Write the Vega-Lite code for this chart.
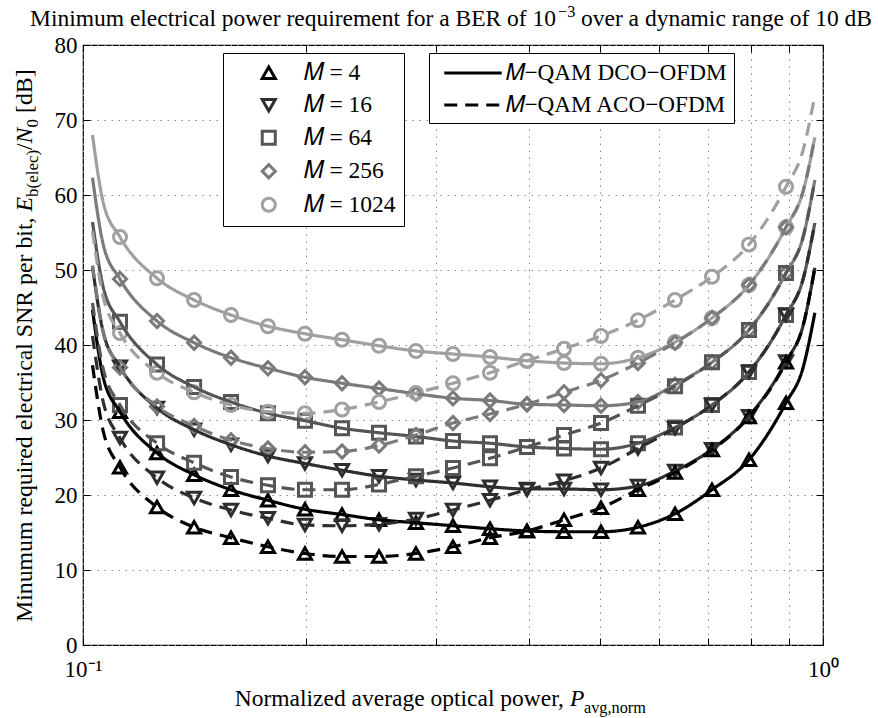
{
  "$schema": "https://vega.github.io/schema/vega-lite/v6.json",
  "autosize": "none",
  "width": 740,
  "height": 600,
  "padding": {"left": 83, "top": 45, "right": 55, "bottom": 73},
  "background": "white",
  "config": {
    "font": "Liberation Serif",
    "view": {"stroke": "black", "strokeWidth": 1.2},
    "style": {"guide-label": {"font": "Liberation Serif", "fill": "black"}},
    "axis": {
      "labelFont": "Liberation Serif",
      "labelFontSize": 23,
      "labelColor": "black",
      "domainColor": "black",
      "tickColor": "black",
      "gridColor": "#8a8a8a",
      "gridDash": [1.5, 5.5],
      "gridWidth": 1
    },
    "legend": {
      "labelFont": "Liberation Serif",
      "labelColor": "black",
      "strokeColor": "black",
      "fillColor": "white",
      "cornerRadius": 0,
      "title": null
    },
    "text": {"font": "Liberation Serif", "color": "black"}
  },
  "datasets": {
    "curves": [
      {"x":0.103,"M":"4","s":"DCO","y":44.7},{"x":0.1065,"M":"4","s":"DCO","y":35.7},
      {"x":0.1122,"M":"4","s":"DCO","y":31.1},{"x":0.1259,"M":"4","s":"DCO","y":25.6},{"x":0.1413,"M":"4","s":"DCO","y":22.7},{"x":0.1585,"M":"4","s":"DCO","y":20.7},{"x":0.1778,"M":"4","s":"DCO","y":19.3},{"x":0.1995,"M":"4","s":"DCO","y":18.1},{"x":0.2239,"M":"4","s":"DCO","y":17.4},{"x":0.2512,"M":"4","s":"DCO","y":16.7},{"x":0.2818,"M":"4","s":"DCO","y":16.3},{"x":0.3162,"M":"4","s":"DCO","y":15.9},{"x":0.3548,"M":"4","s":"DCO","y":15.5},{"x":0.3981,"M":"4","s":"DCO","y":15.2},{"x":0.4467,"M":"4","s":"DCO","y":15.1},{"x":0.5012,"M":"4","s":"DCO","y":15.1},{"x":0.5623,"M":"4","s":"DCO","y":15.7},{"x":0.631,"M":"4","s":"DCO","y":17.5},{"x":0.7079,"M":"4","s":"DCO","y":20.7},{"x":0.7943,"M":"4","s":"DCO","y":24.7},{"x":0.8913,"M":"4","s":"DCO","y":32.3},
      {"x":0.94,"M":"4","s":"DCO","y":37.0},{"x":0.975,"M":"4","s":"DCO","y":44.3},

      {"x":0.103,"M":"16","s":"DCO","y":50.4},{"x":0.1065,"M":"16","s":"DCO","y":41.7},
      {"x":0.1122,"M":"16","s":"DCO","y":37.1},{"x":0.1259,"M":"16","s":"DCO","y":31.6},{"x":0.1413,"M":"16","s":"DCO","y":28.7},{"x":0.1585,"M":"16","s":"DCO","y":26.7},{"x":0.1778,"M":"16","s":"DCO","y":25.2},{"x":0.1995,"M":"16","s":"DCO","y":24.2},{"x":0.2239,"M":"16","s":"DCO","y":23.3},{"x":0.2512,"M":"16","s":"DCO","y":22.5},{"x":0.2818,"M":"16","s":"DCO","y":22.0},{"x":0.3162,"M":"16","s":"DCO","y":21.6},{"x":0.3548,"M":"16","s":"DCO","y":21.1},{"x":0.3981,"M":"16","s":"DCO","y":20.8},{"x":0.4467,"M":"16","s":"DCO","y":20.8},{"x":0.5012,"M":"16","s":"DCO","y":20.7},{"x":0.5623,"M":"16","s":"DCO","y":21.2},{"x":0.631,"M":"16","s":"DCO","y":23.2},{"x":0.7079,"M":"16","s":"DCO","y":26.1},{"x":0.7943,"M":"16","s":"DCO","y":30.5},{"x":0.8913,"M":"16","s":"DCO","y":37.8},
      {"x":0.94,"M":"16","s":"DCO","y":42.6},{"x":0.975,"M":"16","s":"DCO","y":50.3},

      {"x":0.103,"M":"64","s":"DCO","y":56.4},{"x":0.1065,"M":"64","s":"DCO","y":47.7},
      {"x":0.1122,"M":"64","s":"DCO","y":43.1},{"x":0.1259,"M":"64","s":"DCO","y":37.4},{"x":0.1413,"M":"64","s":"DCO","y":34.4},{"x":0.1585,"M":"64","s":"DCO","y":32.4},{"x":0.1778,"M":"64","s":"DCO","y":30.9},{"x":0.1995,"M":"64","s":"DCO","y":29.9},{"x":0.2239,"M":"64","s":"DCO","y":28.9},{"x":0.2512,"M":"64","s":"DCO","y":28.3},{"x":0.2818,"M":"64","s":"DCO","y":27.8},{"x":0.3162,"M":"64","s":"DCO","y":27.2},{"x":0.3548,"M":"64","s":"DCO","y":26.9},{"x":0.3981,"M":"64","s":"DCO","y":26.4},{"x":0.4467,"M":"64","s":"DCO","y":26.2},{"x":0.5012,"M":"64","s":"DCO","y":26.1},{"x":0.5623,"M":"64","s":"DCO","y":26.9},{"x":0.631,"M":"64","s":"DCO","y":29.0},{"x":0.7079,"M":"64","s":"DCO","y":32.0},{"x":0.7943,"M":"64","s":"DCO","y":36.4},{"x":0.8913,"M":"64","s":"DCO","y":44.0},
      {"x":0.94,"M":"64","s":"DCO","y":48.8},{"x":0.975,"M":"64","s":"DCO","y":56.3},

      {"x":0.103,"M":"256","s":"DCO","y":62.3},{"x":0.1065,"M":"256","s":"DCO","y":53.4},
      {"x":0.1122,"M":"256","s":"DCO","y":48.8},{"x":0.1259,"M":"256","s":"DCO","y":43.2},{"x":0.1413,"M":"256","s":"DCO","y":40.3},{"x":0.1585,"M":"256","s":"DCO","y":38.3},{"x":0.1778,"M":"256","s":"DCO","y":36.9},{"x":0.1995,"M":"256","s":"DCO","y":35.7},{"x":0.2239,"M":"256","s":"DCO","y":34.9},{"x":0.2512,"M":"256","s":"DCO","y":34.2},{"x":0.2818,"M":"256","s":"DCO","y":33.5},{"x":0.3162,"M":"256","s":"DCO","y":32.9},{"x":0.3548,"M":"256","s":"DCO","y":32.6},{"x":0.3981,"M":"256","s":"DCO","y":32.1},{"x":0.4467,"M":"256","s":"DCO","y":32.0},{"x":0.5012,"M":"256","s":"DCO","y":31.9},{"x":0.5623,"M":"256","s":"DCO","y":32.4},{"x":0.631,"M":"256","s":"DCO","y":34.7},{"x":0.7079,"M":"256","s":"DCO","y":37.7},{"x":0.7943,"M":"256","s":"DCO","y":42.0},{"x":0.8913,"M":"256","s":"DCO","y":49.6},
      {"x":0.94,"M":"256","s":"DCO","y":54.4},{"x":0.975,"M":"256","s":"DCO","y":62.0},

      {"x":0.103,"M":"1024","s":"DCO","y":68.0},{"x":0.1065,"M":"1024","s":"DCO","y":59.0},
      {"x":0.1122,"M":"1024","s":"DCO","y":54.4},{"x":0.1259,"M":"1024","s":"DCO","y":48.9},{"x":0.1413,"M":"1024","s":"DCO","y":46.0},{"x":0.1585,"M":"1024","s":"DCO","y":44.0},{"x":0.1778,"M":"1024","s":"DCO","y":42.5},{"x":0.1995,"M":"1024","s":"DCO","y":41.5},{"x":0.2239,"M":"1024","s":"DCO","y":40.7},{"x":0.2512,"M":"1024","s":"DCO","y":39.9},{"x":0.2818,"M":"1024","s":"DCO","y":39.2},{"x":0.3162,"M":"1024","s":"DCO","y":38.8},{"x":0.3548,"M":"1024","s":"DCO","y":38.4},{"x":0.3981,"M":"1024","s":"DCO","y":37.9},{"x":0.4467,"M":"1024","s":"DCO","y":37.6},{"x":0.5012,"M":"1024","s":"DCO","y":37.5},{"x":0.5623,"M":"1024","s":"DCO","y":38.3},{"x":0.631,"M":"1024","s":"DCO","y":40.4},{"x":0.7079,"M":"1024","s":"DCO","y":43.6},{"x":0.7943,"M":"1024","s":"DCO","y":48.0},{"x":0.8913,"M":"1024","s":"DCO","y":55.7},
      {"x":0.94,"M":"1024","s":"DCO","y":60.5},{"x":0.975,"M":"1024","s":"DCO","y":67.7},

      {"x":0.103,"M":"4","s":"ACO","y":37.3},{"x":0.1065,"M":"4","s":"ACO","y":28.5},
      {"x":0.1122,"M":"4","s":"ACO","y":23.7},{"x":0.1259,"M":"4","s":"ACO","y":18.4},{"x":0.1413,"M":"4","s":"ACO","y":15.7},{"x":0.1585,"M":"4","s":"ACO","y":14.3},{"x":0.1778,"M":"4","s":"ACO","y":13.1},{"x":0.1995,"M":"4","s":"ACO","y":12.2},{"x":0.2239,"M":"4","s":"ACO","y":11.8},{"x":0.2512,"M":"4","s":"ACO","y":11.8},{"x":0.2818,"M":"4","s":"ACO","y":12.2},{"x":0.3162,"M":"4","s":"ACO","y":13.1},{"x":0.3548,"M":"4","s":"ACO","y":14.3},{"x":0.3981,"M":"4","s":"ACO","y":15.2},{"x":0.4467,"M":"4","s":"ACO","y":16.7},{"x":0.5012,"M":"4","s":"ACO","y":18.3},{"x":0.5623,"M":"4","s":"ACO","y":20.7},{"x":0.631,"M":"4","s":"ACO","y":23.0},{"x":0.7079,"M":"4","s":"ACO","y":26.0},{"x":0.7943,"M":"4","s":"ACO","y":30.4},{"x":0.8913,"M":"4","s":"ACO","y":37.7},
      {"x":0.94,"M":"4","s":"ACO","y":42.6},{"x":0.975,"M":"4","s":"ACO","y":50.3},

      {"x":0.103,"M":"16","s":"ACO","y":41.2},{"x":0.1065,"M":"16","s":"ACO","y":32.4},
      {"x":0.1122,"M":"16","s":"ACO","y":27.6},{"x":0.1259,"M":"16","s":"ACO","y":22.3},{"x":0.1413,"M":"16","s":"ACO","y":19.6},{"x":0.1585,"M":"16","s":"ACO","y":18.0},{"x":0.1778,"M":"16","s":"ACO","y":16.9},{"x":0.1995,"M":"16","s":"ACO","y":16.0},{"x":0.2239,"M":"16","s":"ACO","y":15.9},{"x":0.2512,"M":"16","s":"ACO","y":16.1},{"x":0.2818,"M":"16","s":"ACO","y":16.8},{"x":0.3162,"M":"16","s":"ACO","y":18.0},{"x":0.3548,"M":"16","s":"ACO","y":19.3},{"x":0.3981,"M":"16","s":"ACO","y":20.7},{"x":0.4467,"M":"16","s":"ACO","y":21.9},{"x":0.5012,"M":"16","s":"ACO","y":23.6},{"x":0.5623,"M":"16","s":"ACO","y":26.2},{"x":0.631,"M":"16","s":"ACO","y":28.9},{"x":0.7079,"M":"16","s":"ACO","y":32.0},{"x":0.7943,"M":"16","s":"ACO","y":36.4},{"x":0.8913,"M":"16","s":"ACO","y":44.0},
      {"x":0.94,"M":"16","s":"ACO","y":48.8},{"x":0.975,"M":"16","s":"ACO","y":56.3},

      {"x":0.103,"M":"64","s":"ACO","y":45.6},{"x":0.1065,"M":"64","s":"ACO","y":36.8},
      {"x":0.1122,"M":"64","s":"ACO","y":32.0},{"x":0.1259,"M":"64","s":"ACO","y":26.9},{"x":0.1413,"M":"64","s":"ACO","y":24.3},{"x":0.1585,"M":"64","s":"ACO","y":22.4},{"x":0.1778,"M":"64","s":"ACO","y":21.3},{"x":0.1995,"M":"64","s":"ACO","y":20.7},{"x":0.2239,"M":"64","s":"ACO","y":20.7},{"x":0.2512,"M":"64","s":"ACO","y":21.4},{"x":0.2818,"M":"64","s":"ACO","y":22.5},{"x":0.3162,"M":"64","s":"ACO","y":23.6},{"x":0.3548,"M":"64","s":"ACO","y":24.9},{"x":0.3981,"M":"64","s":"ACO","y":26.4},{"x":0.4467,"M":"64","s":"ACO","y":28.0},{"x":0.5012,"M":"64","s":"ACO","y":29.6},{"x":0.5623,"M":"64","s":"ACO","y":31.9},{"x":0.631,"M":"64","s":"ACO","y":34.5},{"x":0.7079,"M":"64","s":"ACO","y":37.7},{"x":0.7943,"M":"64","s":"ACO","y":42.0},{"x":0.8913,"M":"64","s":"ACO","y":49.6},
      {"x":0.94,"M":"64","s":"ACO","y":54.4},{"x":0.975,"M":"64","s":"ACO","y":62.0},

      {"x":0.103,"M":"256","s":"ACO","y":50.6},{"x":0.1065,"M":"256","s":"ACO","y":41.8},
      {"x":0.1122,"M":"256","s":"ACO","y":37.0},{"x":0.1259,"M":"256","s":"ACO","y":31.8},{"x":0.1413,"M":"256","s":"ACO","y":29.2},{"x":0.1585,"M":"256","s":"ACO","y":27.3},{"x":0.1778,"M":"256","s":"ACO","y":26.2},{"x":0.1995,"M":"256","s":"ACO","y":25.7},{"x":0.2239,"M":"256","s":"ACO","y":25.8},{"x":0.2512,"M":"256","s":"ACO","y":26.6},{"x":0.2818,"M":"256","s":"ACO","y":28.0},{"x":0.3162,"M":"256","s":"ACO","y":29.6},{"x":0.3548,"M":"256","s":"ACO","y":30.8},{"x":0.3981,"M":"256","s":"ACO","y":32.1},{"x":0.4467,"M":"256","s":"ACO","y":33.7},{"x":0.5012,"M":"256","s":"ACO","y":35.3},{"x":0.5623,"M":"256","s":"ACO","y":37.6},{"x":0.631,"M":"256","s":"ACO","y":40.3},{"x":0.7079,"M":"256","s":"ACO","y":43.6},{"x":0.7943,"M":"256","s":"ACO","y":48.0},{"x":0.8913,"M":"256","s":"ACO","y":55.7},
      {"x":0.94,"M":"256","s":"ACO","y":60.5},{"x":0.975,"M":"256","s":"ACO","y":67.7},

      {"x":0.103,"M":"1024","s":"ACO","y":55.2},{"x":0.1065,"M":"1024","s":"ACO","y":46.4},
      {"x":0.1122,"M":"1024","s":"ACO","y":41.6},{"x":0.1259,"M":"1024","s":"ACO","y":36.3},{"x":0.1413,"M":"1024","s":"ACO","y":33.7},{"x":0.1585,"M":"1024","s":"ACO","y":32.0},{"x":0.1778,"M":"1024","s":"ACO","y":31.1},{"x":0.1995,"M":"1024","s":"ACO","y":30.9},{"x":0.2239,"M":"1024","s":"ACO","y":31.4},{"x":0.2512,"M":"1024","s":"ACO","y":32.4},{"x":0.2818,"M":"1024","s":"ACO","y":33.6},{"x":0.3162,"M":"1024","s":"ACO","y":34.9},{"x":0.3548,"M":"1024","s":"ACO","y":36.3},{"x":0.3981,"M":"1024","s":"ACO","y":37.9},{"x":0.4467,"M":"1024","s":"ACO","y":39.5},{"x":0.5012,"M":"1024","s":"ACO","y":41.2},{"x":0.5623,"M":"1024","s":"ACO","y":43.3},{"x":0.631,"M":"1024","s":"ACO","y":46.0},{"x":0.7079,"M":"1024","s":"ACO","y":49.1},{"x":0.7943,"M":"1024","s":"ACO","y":53.4},{"x":0.8913,"M":"1024","s":"ACO","y":61.1},
      {"x":0.94,"M":"1024","s":"ACO","y":66.0},{"x":0.975,"M":"1024","s":"ACO","y":73.3}
    ]
  },
  "resolve": {"axis": {"x": "independent", "y": "independent"}},
  "layer": [
    {
      "data": {"name": "curves"},
      "transform": [{"filter": "datum.x > 0.11 && datum.x < 0.9"}],
      "mark": {"type": "point", "filled": false, "strokeWidth": 3, "size": 170, "opacity": 1},
      "encoding": {
        "x": {
          "field": "x", "type": "quantitative",
          "scale": {"type": "log", "domain": [0.1, 1], "nice": false},
          "axis": {
            "title": null,
            "values": [0.1, 0.2, 0.3, 0.4, 0.5, 0.6, 0.7, 0.8, 0.9, 1],
            "labelExpr": "abs(datum.value - 0.1) < 1e-6 ? '10⁻¹' : (abs(datum.value - 1) < 1e-6 ? '10⁰' : '')",
            "labelFont": "Liberation Serif",
            "labelFontSize": 23,
            "labelColor": "black",
            "tickSize": -7,
            "labelPadding": 20,
            "labelBaseline": "top",
            "labelFlush": false,
            "labelOverlap": false,
            "grid": true,
            "domain": false
          }
        },
        "y": {
          "field": "y", "type": "quantitative",
          "scale": {"domain": [0, 80], "nice": false, "zero": false},
          "axis": {
            "title": null,
            "values": [0, 10, 20, 30, 40, 50, 60, 70, 80],
            "labelFont": "Liberation Serif",
            "labelFontSize": 23,
            "labelColor": "black",
            "tickSize": -7,
            "labelPadding": 13,
            "grid": true,
            "domain": false
          }
        },
        "color": {
          "field": "M", "type": "nominal",
          "scale": {"domain": ["4", "16", "64", "256", "1024"], "range": ["#000000", "#2e2e2e", "#555555", "#7a7a7a", "#a0a0a0"]},
          "legend": {
            "orient": "none", "legendX": 140, "legendY": 8,
            "labelFont": "Liberation Serif", "labelFontSize": 23.5, "labelLimit": 300,
            "labelExpr": "'𝑀 = ' + datum.label + ' '",
            "symbolStrokeWidth": 3, "symbolSize": 170,
            "padding": 8, "rowPadding": 7.5, "symbolOffset": 26, "labelOffset": 23
          }
        },
        "shape": {
          "field": "M", "type": "nominal",
          "scale": {"domain": ["4", "16", "64", "256", "1024"], "range": ["triangle-up", "triangle-down", "square", "diamond", "circle"]},
          "legend": {
            "orient": "none", "legendX": 140, "legendY": 8,
            "labelFont": "Liberation Serif", "labelFontSize": 23.5, "labelLimit": 300,
            "labelExpr": "'𝑀 = ' + datum.label + ' '",
            "symbolStrokeWidth": 3, "symbolSize": 170,
            "padding": 8, "rowPadding": 7.5, "symbolOffset": 26, "labelOffset": 23
          }
        }
      }
    },
    {
      "data": {"name": "curves"},
      "mark": {"type": "line", "interpolate": "monotone", "strokeWidth": 3.2},
      "encoding": {
        "x": {"field": "x", "type": "quantitative", "axis": null},
        "y": {"field": "y", "type": "quantitative", "axis": null},
        "color": {"field": "M", "type": "nominal", "legend": null},
        "strokeDash": {
          "field": "s", "type": "nominal",
          "scale": {"domain": ["DCO", "ACO"], "range": [[1, 0], [13, 8]]},
          "legend": {
            "orient": "none", "legendX": 346, "legendY": 8,
            "labelFont": "Liberation Serif", "labelFontSize": 23.2, "labelLimit": 400,
            "labelExpr": "datum.label == 'DCO' ? '𝑀−QAM DCO−OFDM' : '𝑀−QAM ACO−OFDM'",
            "symbolType": "M-2.5,0L2.5,0", "symbolSize": 529, "symbolStrokeWidth": 3.2, "symbolStrokeColor": "black",
            "padding": 6.5, "rowPadding": 7, "symbolOffset": 24, "labelOffset": 19
          }
        }
      }
    },
    {
      "data": {"name": "curves"},
      "mark": {"type": "point", "opacity": 0},
      "encoding": {
        "x": {"field": "x", "type": "quantitative",
          "axis": {"orient": "top", "title": null, "labels": false, "values": [0.1, 0.2, 0.3, 0.4, 0.5, 0.6, 0.7, 0.8, 0.9, 1], "tickSize": -7, "grid": false, "domain": false}},
        "y": {"field": "y", "type": "quantitative",
          "axis": {"orient": "right", "title": null, "labels": false, "values": [0, 10, 20, 30, 40, 50, 60, 70, 80], "tickSize": -7, "grid": false, "domain": false}}
      }
    },
    {
      "data": {"values": [{}]},
      "layer": [
        {
          "mark": {"type": "text", "text": "Minimum electrical power requirement for a BER of 10", "fontSize": 23.5, "align": "right", "baseline": "alphabetic"},
          "encoding": {"x": {"datum": 0.4357, "type": "quantitative", "axis": null}, "y": {"datum": 82.53, "type": "quantitative", "axis": null}}
        },
        {
          "mark": {"type": "text", "text": "−3", "fontSize": 16.3, "align": "left", "baseline": "alphabetic"},
          "encoding": {"x": {"datum": 0.4384, "type": "quantitative", "axis": null}, "y": {"datum": 83.73, "type": "quantitative", "axis": null}}
        },
        {
          "mark": {"type": "text", "text": "over a dynamic range of 10 dB", "fontSize": 23.5, "align": "left", "baseline": "alphabetic"},
          "encoding": {"x": {"datum": 0.4709, "type": "quantitative", "axis": null}, "y": {"datum": 82.53, "type": "quantitative", "axis": null}}
        },
        {
          "mark": {"type": "text", "text": "Normalized average optical power,", "fontSize": 23.5, "align": "right", "baseline": "alphabetic"},
          "encoding": {"x": {"datum": 0.4467, "type": "quantitative", "axis": null}, "y": {"datum": -8.07, "type": "quantitative", "axis": null}}
        },
        {
          "mark": {"type": "text", "text": "P", "fontSize": 23.5, "fontStyle": "italic", "align": "left", "baseline": "alphabetic"},
          "encoding": {"x": {"datum": 0.4551, "type": "quantitative", "axis": null}, "y": {"datum": -8.07, "type": "quantitative", "axis": null}}
        },
        {
          "mark": {"type": "text", "text": "avg,norm", "fontSize": 16.3, "align": "left", "baseline": "alphabetic"},
          "encoding": {"x": {"datum": 0.4753, "type": "quantitative", "axis": null}, "y": {"datum": -9.0, "type": "quantitative", "axis": null}}
        },
        {
          "mark": {"type": "text", "text": "Minumum required electrical SNR per bit,", "fontSize": 23.8, "angle": 270, "align": "left", "baseline": "alphabetic"},
          "encoding": {"x": {"datum": 0.0853, "type": "quantitative", "axis": null}, "y": {"datum": 3.07, "type": "quantitative", "axis": null}}
        },
        {
          "mark": {"type": "text", "text": "E", "fontSize": 23.8, "fontStyle": "italic", "angle": 270, "align": "left", "baseline": "alphabetic"},
          "encoding": {"x": {"datum": 0.0853, "type": "quantitative", "axis": null}, "y": {"datum": 57.8, "type": "quantitative", "axis": null}}
        },
        {
          "mark": {"type": "text", "text": "b(elec)", "fontSize": 17, "angle": 270, "align": "left", "baseline": "alphabetic"},
          "encoding": {"x": {"datum": 0.0869, "type": "quantitative", "axis": null}, "y": {"datum": 59.73, "type": "quantitative", "axis": null}}
        },
        {
          "mark": {"type": "text", "text": "/", "fontSize": 23.8, "angle": 270, "align": "left", "baseline": "alphabetic"},
          "encoding": {"x": {"datum": 0.0853, "type": "quantitative", "axis": null}, "y": {"datum": 66.0, "type": "quantitative", "axis": null}}
        },
        {
          "mark": {"type": "text", "text": "N", "fontSize": 23.8, "fontStyle": "italic", "angle": 270, "align": "left", "baseline": "alphabetic"},
          "encoding": {"x": {"datum": 0.0853, "type": "quantitative", "axis": null}, "y": {"datum": 66.88, "type": "quantitative", "axis": null}}
        },
        {
          "mark": {"type": "text", "text": "0", "fontSize": 17, "angle": 270, "align": "left", "baseline": "alphabetic"},
          "encoding": {"x": {"datum": 0.0869, "type": "quantitative", "axis": null}, "y": {"datum": 69.0, "type": "quantitative", "axis": null}}
        },
        {
          "mark": {"type": "text", "text": "[dB]", "fontSize": 23.8, "angle": 270, "align": "left", "baseline": "alphabetic"},
          "encoding": {"x": {"datum": 0.0853, "type": "quantitative", "axis": null}, "y": {"datum": 70.93, "type": "quantitative", "axis": null}}
        }
      ]
    }
  ]
}
